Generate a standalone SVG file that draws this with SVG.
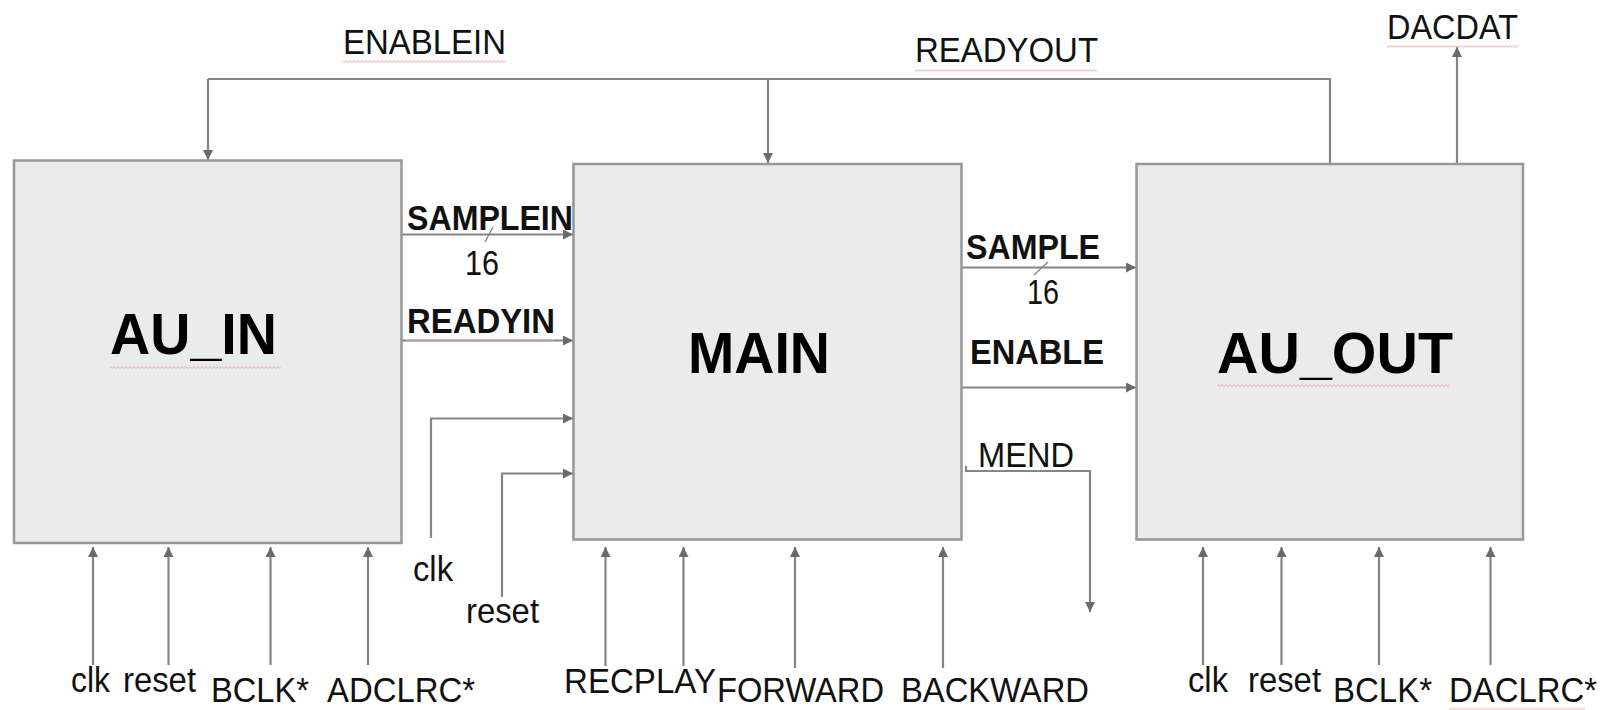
<svg xmlns="http://www.w3.org/2000/svg" width="1614" height="710" viewBox="0 0 1614 710">
<style>
.box{fill:#ebebeb;stroke:#979797;stroke-width:2.5}
.w{fill:none;stroke:#858585;stroke-width:2.2}
.arr{marker-end:url(#ah)}
.t{font-family:"Liberation Sans",Arial,sans-serif;font-size:35px;fill:#111}
.b{font-weight:bold}
.big{font-family:"Liberation Sans",Arial,sans-serif;font-size:57px;font-weight:bold;fill:#000}
.sl{stroke:#8a8a8a;stroke-width:1.5}
.sq{fill:url(#squig)}
</style>
<defs>
<marker id="ah" viewBox="0 0 10 10" refX="10" refY="5" markerWidth="12" markerHeight="10" markerUnits="userSpaceOnUse" orient="auto">
<path d="M0,0 L10,5 L0,10 z" fill="#6a6a6a"/>
</marker>
<pattern id="squig" patternUnits="userSpaceOnUse" width="4" height="3">
<path d="M0,2.3 L2,0.7 L4,2.3" fill="none" stroke="#f2a4a4" stroke-width="0.9"/>
</pattern>
</defs>

<g id="connectors">
<path class="w" d="M208,79 H1330 V164"/>
<path class="w arr" d="M208,79 V160"/>
<path class="w arr" d="M768,79 V163"/>
<path class="w arr" d="M1457,164 V47"/>
<path class="w arr" d="M401,234.5 H573"/>
<line class="sl" x1="485" y1="242" x2="493" y2="227"/>
<path class="w arr" d="M401,340.5 H573"/>
<path class="w arr" d="M431,538 V418.5 H573"/>
<path class="w arr" d="M502,597 V473.5 H573"/>
<path class="w arr" d="M961,267.5 H1136"/>
<line class="sl" x1="1034" y1="275" x2="1048" y2="262"/>
<path class="w arr" d="M961,387.5 H1136"/>
<path class="w arr" d="M966,466 V471 H1090 V612"/>
<path class="w arr" d="M93,665 V547"/>
<path class="w arr" d="M168.5,665 V547"/>
<path class="w arr" d="M270.5,665 V547"/>
<path class="w arr" d="M368,665 V547"/>
<path class="w arr" d="M605.5,666 V547"/>
<path class="w arr" d="M683.5,666 V547"/>
<path class="w arr" d="M795,668 V547"/>
<path class="w arr" d="M943,668 V547"/>
<path class="w arr" d="M1203,665 V547"/>
<path class="w arr" d="M1281.5,665 V547"/>
<path class="w arr" d="M1379,665 V547"/>
<path class="w arr" d="M1490.5,665 V547"/>
</g>

<g id="au_in">
<rect class="box" x="14" y="160.5" width="387.5" height="382.5"/>
<text class="big" x="110" y="354" textLength="167" lengthAdjust="spacingAndGlyphs">AU_IN</text>
<rect class="sq" x="110" y="366" width="171" height="3"/>
</g>

<g id="main">
<rect class="box" x="573.5" y="164" width="388" height="375.5"/>
<text class="big" x="688" y="373" textLength="142" lengthAdjust="spacingAndGlyphs">MAIN</text>
</g>

<g id="au_out">
<rect class="box" x="1136.5" y="164" width="386.5" height="375.5"/>
<text class="big" x="1217" y="373" textLength="236" lengthAdjust="spacingAndGlyphs">AU_OUT</text>
<rect class="sq" x="1217" y="384" width="232" height="3"/>
</g>

<g id="labels">
<text class="t" x="343" y="54" textLength="163" lengthAdjust="spacingAndGlyphs">ENABLEIN</text>
<rect class="sq" x="343" y="60" width="163" height="3"/>
<text class="t" x="915" y="62" textLength="183" lengthAdjust="spacingAndGlyphs">READYOUT</text>
<rect class="sq" x="915" y="69" width="182" height="3"/>
<text class="t" x="1387" y="38.5" textLength="131" lengthAdjust="spacingAndGlyphs">DACDAT</text>
<rect class="sq" x="1387" y="45" width="131" height="3"/>
<text class="t b" x="407" y="230" textLength="166" lengthAdjust="spacingAndGlyphs">SAMPLEIN</text>
<text class="t" x="465" y="275" textLength="34" lengthAdjust="spacingAndGlyphs">16</text>
<text class="t b" x="407" y="333" textLength="148" lengthAdjust="spacingAndGlyphs">READYIN</text>
<rect class="sq" x="407" y="339" width="146" height="3"/>
<text class="t b" x="966" y="259" textLength="134" lengthAdjust="spacingAndGlyphs">SAMPLE</text>
<text class="t" x="1027" y="304" textLength="32" lengthAdjust="spacingAndGlyphs">16</text>
<text class="t b" x="970" y="364" textLength="134" lengthAdjust="spacingAndGlyphs">ENABLE</text>
<text class="t" x="978" y="467" textLength="96" lengthAdjust="spacingAndGlyphs">MEND</text>
<text class="t" x="71" y="692" textLength="39" lengthAdjust="spacingAndGlyphs">clk</text>
<text class="t" x="123" y="692" textLength="73" lengthAdjust="spacingAndGlyphs">reset</text>
<text class="t" x="211" y="702" textLength="98" lengthAdjust="spacingAndGlyphs">BCLK*</text>
<text class="t" x="327" y="702" textLength="148" lengthAdjust="spacingAndGlyphs">ADCLRC*</text>
<text class="t" x="413" y="581" textLength="40" lengthAdjust="spacingAndGlyphs">clk</text>
<text class="t" x="466" y="623" textLength="73" lengthAdjust="spacingAndGlyphs">reset</text>
<text class="t" x="564" y="693" textLength="152" lengthAdjust="spacingAndGlyphs">RECPLAY</text>
<text class="t" x="717" y="702" textLength="167" lengthAdjust="spacingAndGlyphs">FORWARD</text>
<text class="t" x="901" y="702" textLength="188" lengthAdjust="spacingAndGlyphs">BACKWARD</text>
<text class="t" x="1188" y="692" textLength="40" lengthAdjust="spacingAndGlyphs">clk</text>
<text class="t" x="1248" y="692" textLength="73" lengthAdjust="spacingAndGlyphs">reset</text>
<text class="t" x="1333" y="702" textLength="99" lengthAdjust="spacingAndGlyphs">BCLK*</text>
<text class="t" x="1449" y="702" textLength="148" lengthAdjust="spacingAndGlyphs">DACLRC*</text>
<rect class="sq" x="1449" y="707" width="136" height="3"/>
</g>
</svg>
